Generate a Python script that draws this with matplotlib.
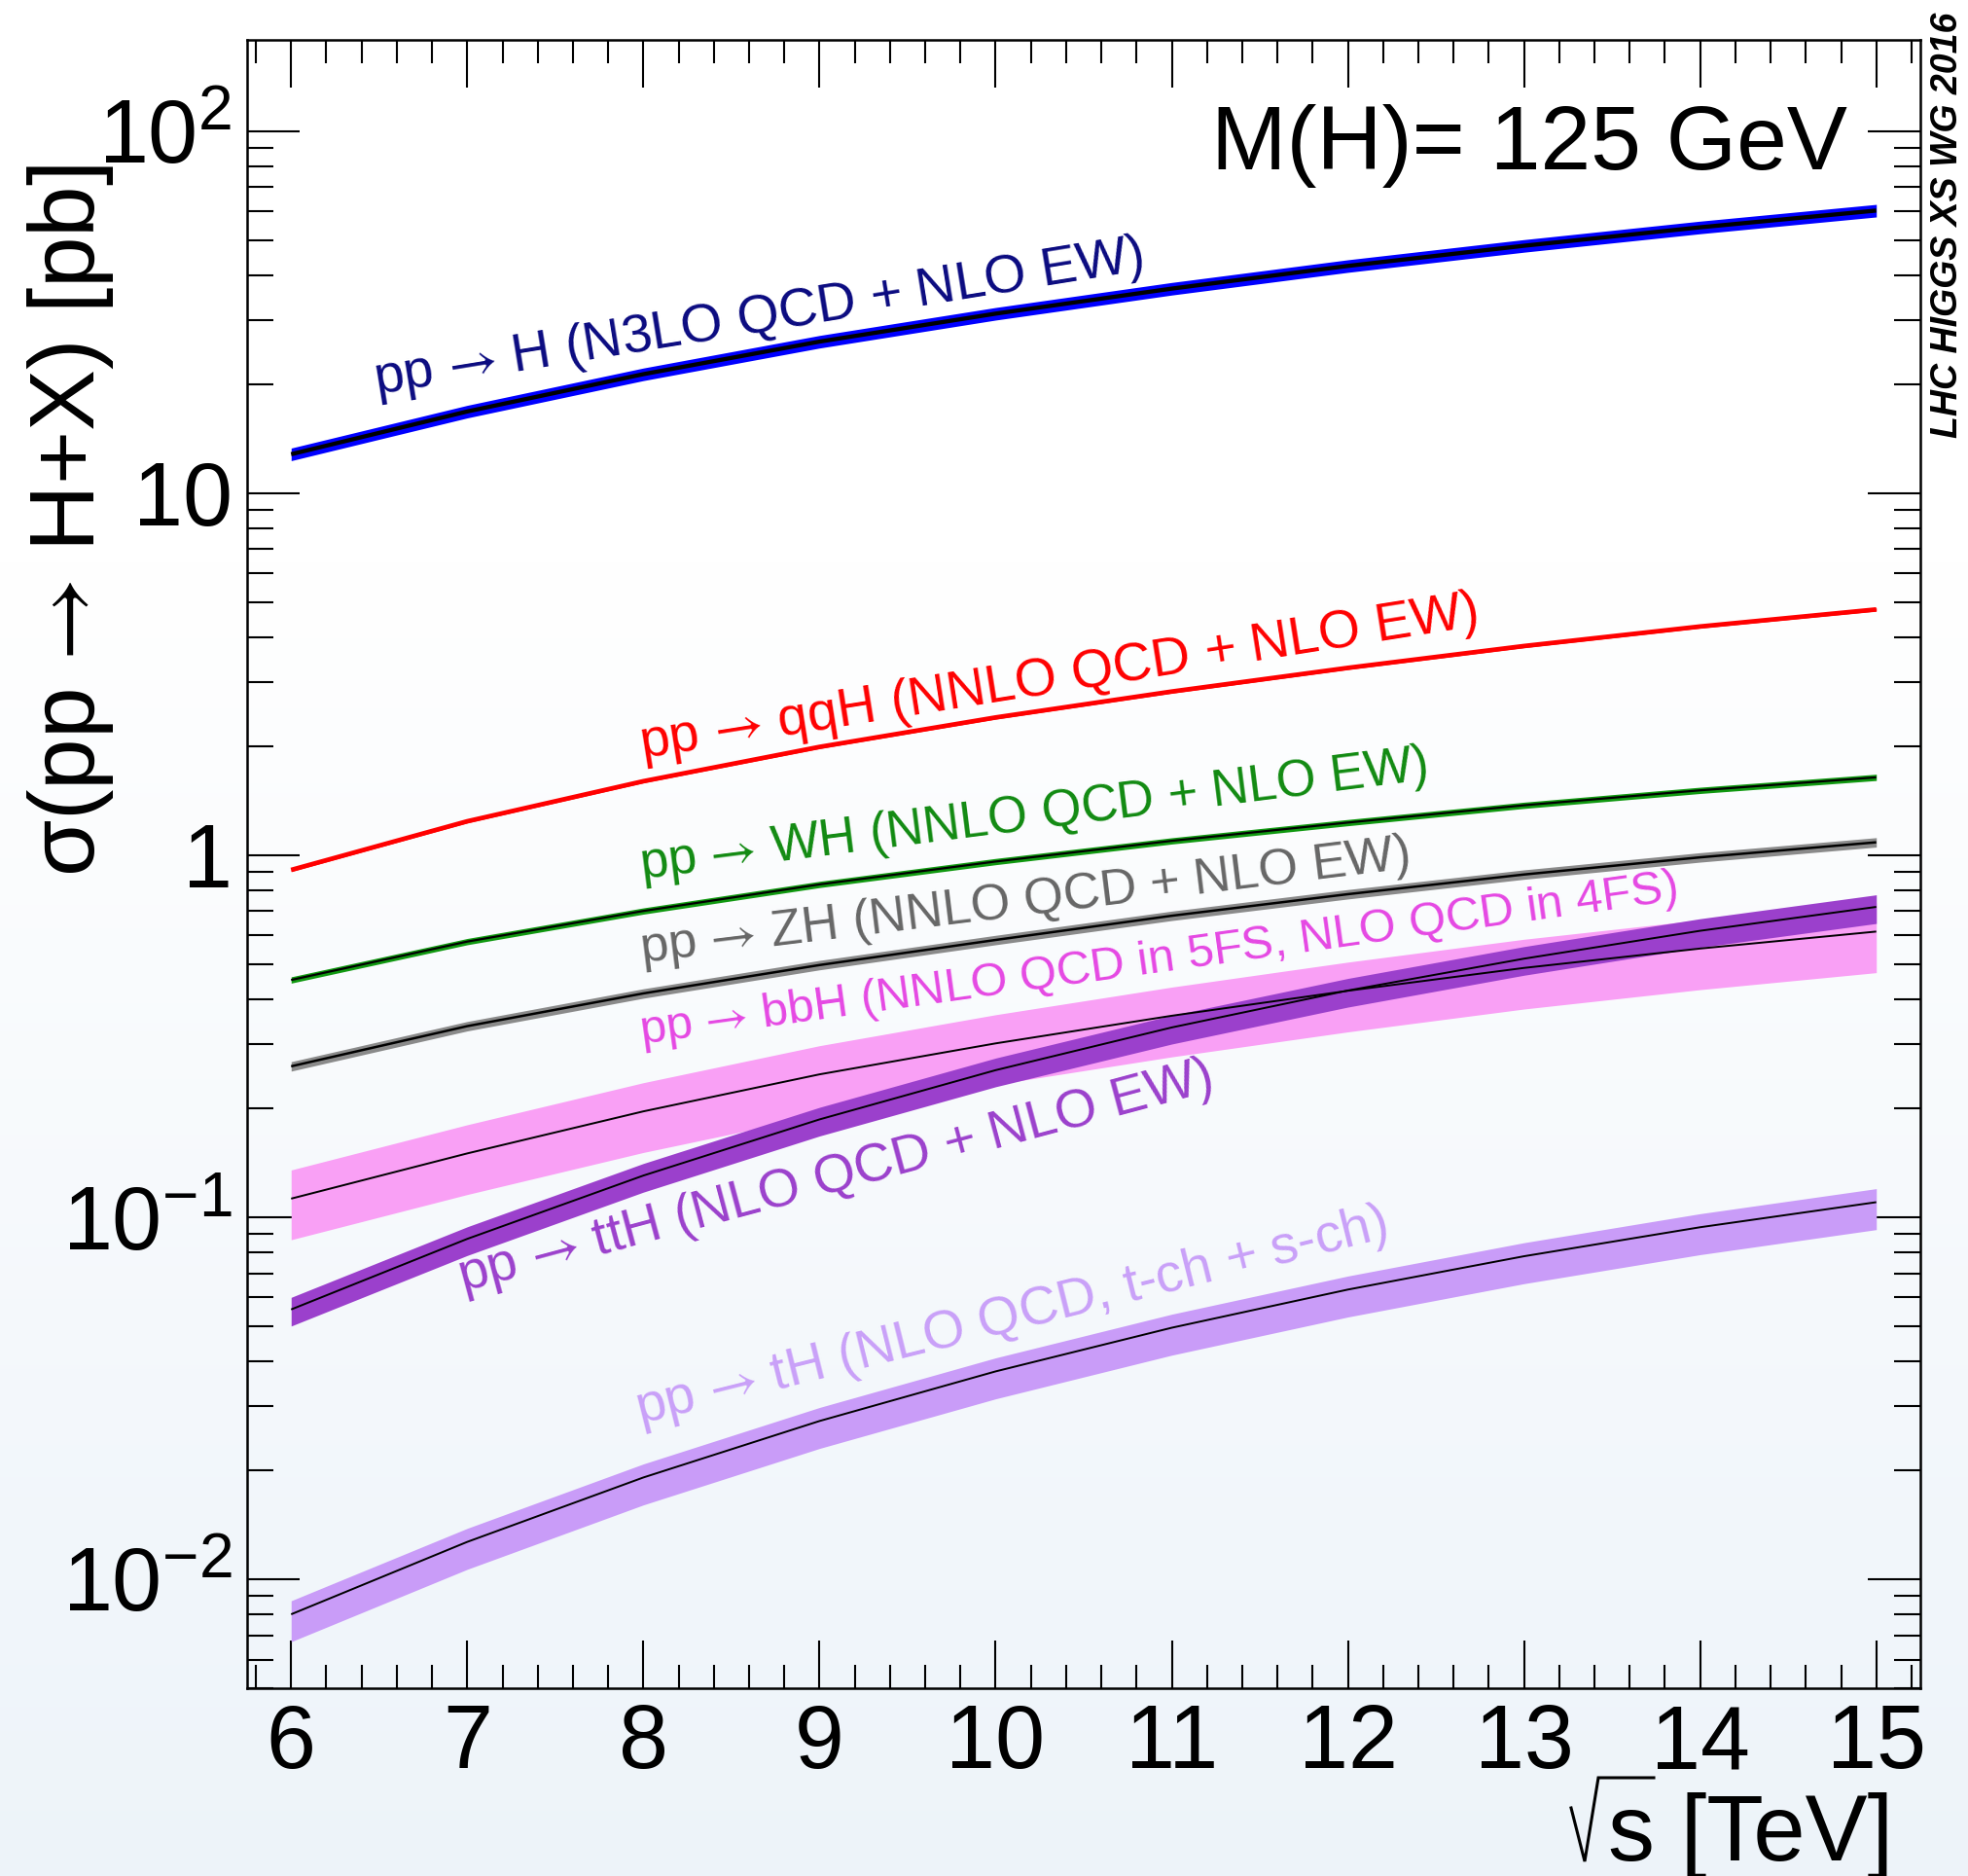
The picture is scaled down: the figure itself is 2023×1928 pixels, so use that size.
"""
Higgs production cross sections vs sqrt(s), M(H) = 125 GeV
ROOT-style log plot redone in matplotlib
"""

import numpy as np
import matplotlib
matplotlib.use('Agg')
import matplotlib.pyplot as plt
from matplotlib.lines import Line2D
from matplotlib.ticker import MultipleLocator, FixedLocator, NullFormatter

plt.rcParams['font.family'] = ['Liberation Sans', 'DejaVu Sans']
plt.rcParams['mathtext.fontset'] = 'custom'
plt.rcParams['mathtext.rm'] = 'Liberation Sans'
plt.rcParams['mathtext.it'] = 'Liberation Sans:italic'
plt.rcParams['mathtext.bf'] = 'Liberation Sans:bold'

# ============================================================================
# DATA, sigma in pb
# ============================================================================
sqrt_s = [6, 7, 8, 9, 10, 11, 12, 13, 14, 15]

xs_ggH = [12.8, 16.8, 21.3, 26.2, 31.3, 36.7, 42.4, 48.2, 54.2, 60.3]
xs_qqH = [0.91, 1.24, 1.60, 1.99, 2.40, 2.83, 3.29, 3.78, 4.28, 4.77]
xs_WH = [0.452, 0.577, 0.701, 0.83, 0.96, 1.095, 1.23, 1.373, 1.51, 1.64]
xs_ZH = [0.261, 0.337, 0.415, 0.497, 0.583, 0.68, 0.78, 0.884, 0.986, 1.085]
xs_bbH = [0.1125, 0.150, 0.196, 0.248, 0.302, 0.360, 0.422, 0.488, 0.552, 0.615]
xs_ttH = [0.0556, 0.0871, 0.1303, 0.1862, 0.2547, 0.3342, 0.4227, 0.5176, 0.618, 0.7194]
xs_tH = [0.0080, 0.01268, 0.0191, 0.02735, 0.0375, 0.0495, 0.0631, 0.078, 0.0938, 0.110]

# relative band widths (up, down)
unc_ggH = (0.04, 0.04)
unc_qqH = (0.01, 0.01)
unc_WH = (0.02, 0.02)
unc_ZH = (0.03, 0.03)
unc_bbH = (0.20, 0.23)
unc_ttH = (0.08, 0.10)
unc_tH = (0.09, 0.16)

# arrow written as a raw glyph inside $...$ so it comes from the STIX font
labels = [
    "pp $→$ H (N3LO QCD + NLO EW)",
    "pp $→$ qqH (NNLO QCD + NLO EW)",
    "pp $→$ WH (NNLO QCD + NLO EW)",
    "pp $→$ ZH (NNLO QCD + NLO EW)",
    "pp $→$ bbH (NNLO QCD in 5FS, NLO QCD in 4FS)",
    "pp $→$ ttH (NLO QCD + NLO EW)",
    "pp $→$ tH (NLO QCD, t-ch + s-ch)",
]

ytick_vals = [0.01, 0.1, 1, 10, 100]
ytick_labels = [r'$10^{-2}$', r'$10^{-1}$', '1', '10', r'$10^{2}$']

# ============================================================================
# STYLE
# ============================================================================
band_colors = ['#0000ff', '#ff0000', '#119911', '#8a8a8a', '#f9a0f5', '#9b40cc', '#c99cf8']
label_colors = ['#0a0a80', '#ff0000', '#118a11', '#666666', '#e548e3', '#9b40cc', '#c9a0f8']
line_colors = ['black', '#ff0000', 'black', 'black', 'black', 'black', 'black']
line_widths = [3.1, 3.4, 1.6, 1.8, 1.4, 1.4, 1.4]

# label anchors (data coords, left baseline), rotation (deg) and size
label_pos = [(6.485, 18.76), (7.99, 1.848), (7.99, 0.8625), (7.99, 0.506),
             (7.99, 0.300), (6.97, 0.0623), (7.98, 0.02685)]
label_rot = [9.2, 9.0, 7.2, 7.0, 7.9, 15.0, 14.0]
label_size = [40, 40, 37.8, 37.7, 35.1, 40, 40]

W, H = 2023, 1928
fig = plt.figure(figsize=(W / 100, H / 100), dpi=100)

# light background gradient (white on top, pale blue at the bottom)
bg = fig.add_axes([0, 0, 1, 1], zorder=-5)
rows = np.linspace(0, 1, 400)[:, None]
t = np.clip((rows - 0.3) / 0.7, 0, 1)
top_c = np.array([1.0, 1.0, 1.0])
bot_c = np.array([0.93, 0.955, 0.978])
img = (top_c[None, None, :] * (1 - t[..., None]) + bot_c[None, None, :] * t[..., None])
bg.imshow(img, aspect='auto', extent=[0, 1, 0, 1])
bg.axis('off')

ax = fig.add_axes([254 / W, 1 - 1735 / H, (1974 - 254) / W, (1735 - 41) / H])
ax.set_facecolor('none')
ax.set_yscale('log')
ax.set_xlim(5.75, 15.25)
ax.set_ylim(0.005, 178.5)

series = [xs_ggH, xs_qqH, xs_WH, xs_ZH, xs_bbH, xs_ttH, xs_tH]
uncs = [unc_ggH, unc_qqH, unc_WH, unc_ZH, unc_bbH, unc_ttH, unc_tH]

x = np.array(sqrt_s, dtype=float)
for vals, (up, dn), col in zip(series, uncs, band_colors):
    y = np.array(vals)
    ax.fill_between(x, y * (1 - dn), y * (1 + up), color=col, lw=0, zorder=2)

for vals, col, lw in zip(series, line_colors, line_widths):
    ax.plot(x, vals, color=col, lw=lw, zorder=3, solid_capstyle='butt')

for txt, (lx, ly), rot, col, fs in zip(labels, label_pos, label_rot, label_colors, label_size):
    ax.text(lx, ly, txt, color=col, fontsize=fs, rotation=rot, math_fontfamily='stixsans',
            rotation_mode='anchor', ha='left', va='baseline', zorder=4)

# ticks, ROOT style (inside, all four sides)
ax.xaxis.set_major_locator(MultipleLocator(1))
ax.xaxis.set_minor_locator(MultipleLocator(0.2))
ax.yaxis.set_major_locator(FixedLocator(ytick_vals))
ax.set_yticklabels(ytick_labels)
minor_y = [m * 10.0 ** e for e in range(-3, 3) for m in range(2, 10)]
ax.yaxis.set_minor_locator(FixedLocator(minor_y))
ax.yaxis.set_minor_formatter(NullFormatter())

ax.tick_params(axis='x', which='major', direction='in', top=True, length=35, width=1.5,
               labelsize=66, pad=11)
ax.tick_params(axis='x', which='minor', direction='in', top=True, length=17, width=1.5)
ax.tick_params(axis='y', which='major', direction='in', right=True, length=39, width=1.5,
               labelsize=66, pad=11)
ax.tick_params(axis='y', which='minor', direction='in', right=True, length=19.5, width=1.5)
for sp in ax.spines.values():
    sp.set_linewidth(1.8)

# x title: ROOT-like radical drawn by hand, then "s [TeV]"
fig.text(1653 / W, 1 - 1912 / H, 's [TeV]', ha='left', va='baseline', fontsize=69)
rad_x = [1615, 1629, 1643, 1700]
rad_y = [1858, 1913, 1827, 1827]
fig.add_artist(Line2D([v / W for v in rad_x], [1 - v / H for v in rad_y],
                      transform=fig.transFigure, color='black', lw=2.2,
                      solid_joinstyle='miter'))

fig.text(0.0356, 0.9123, 'σ(pp $→$ H+X) [pb]', rotation=90, ha='center',
         va='top', fontsize=68, math_fontfamily='stixsans')
fig.text(0.9387, 0.9098, 'M(H)= 125 GeV', ha='right', va='baseline', fontsize=67)
fig.text(0.9896, 0.9934, 'LHC HIGGS XS WG 2016', rotation=90, ha='center', va='top',
         fontsize=27, fontweight='bold', fontstyle='italic')

fig.savefig('out.png', dpi=100)
print("Saved: out.png")
